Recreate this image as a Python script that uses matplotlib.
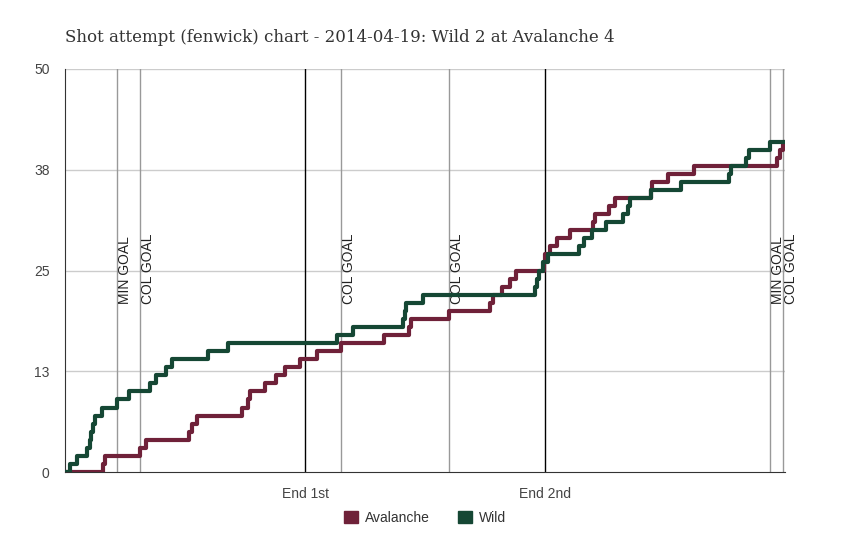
import numpy as np
import matplotlib.pyplot as plt
from matplotlib.patches import Patch

# shot attempt times (game minutes)
avs_times = [3.2, 3.3, 6.25, 6.75, 10.33, 10.6, 10.97, 14.72, 15.28, 15.4,
             16.67, 17.6, 18.33, 19.6, 20.97, 22.97, 26.6, 28.7, 28.85, 32.0,
             35.45, 35.65, 36.4, 37.1, 37.6, 39.9, 40.0, 40.4, 40.97, 42.1,
             44.0, 44.2, 45.3, 45.85, 48.85, 48.95, 50.25, 52.45, 59.35, 59.6,
             59.85]
wild_times = [0.42, 1.03, 1.8, 2.05, 2.2, 2.36, 2.5, 3.05, 4.3, 5.33,
              7.08, 7.58, 8.42, 8.9, 11.94, 13.56, 22.7, 23.97, 28.15, 28.3,
              28.45, 29.8, 39.2, 39.35, 39.5, 39.85, 40.25, 42.8, 43.25, 43.9,
              45.1, 46.5, 46.95, 47.1, 48.8, 51.3, 55.35, 55.5, 56.75, 57.0,
              58.75]

goal_times = [4.33, 6.25, 23.0, 32.0, 58.75, 59.83]
goal_labels = ["MIN GOAL", "COL GOAL", "COL GOAL", "COL GOAL", "MIN GOAL", "COL GOAL"]
period_ends = [20, 40]
period_labels = ["End 1st", "End 2nd"]
y_ticks = [0, 12.5, 25, 37.5, 50]
y_labels = ["0", "13", "25", "38", "50"]
game_end = 60

avs_color = "#6f2139"
wild_color = "#154734"

fig = plt.figure(figsize=(8.5, 5.4), dpi=100)
ax = fig.add_axes([65/850, 68/540, 720/850, 403/540])

def cumulative(times):
    x = np.concatenate([[0], times, [game_end]])
    y = np.concatenate([[0], np.arange(1, len(times)+1), [len(times)]])
    return x, y

for yt in y_ticks[1:]:
    ax.axhline(yt, color="#cccccc", lw=1, zorder=1)

for t in period_ends:
    ax.axvline(t, color="black", lw=1, zorder=2)

for t, lab in zip(goal_times, goal_labels):
    ax.axvline(t, color="#999999", lw=1, zorder=2)
    ax.text(t + 0.1, 20.9, lab, rotation=90, ha="left", va="bottom",
            fontsize=10, color="#222222", family="Liberation Sans", zorder=3, clip_on=False)

x, y = cumulative(avs_times)
ax.plot(x, y, drawstyle="steps-post", color=avs_color, lw=3, zorder=4)
x, y = cumulative(wild_times)
ax.plot(x, y, drawstyle="steps-post", color=wild_color, lw=3, zorder=5)

ax.set_xlim(0, game_end)
ax.set_ylim(0, 50)
ax.set_yticks(y_ticks)
ax.set_yticklabels(y_labels)
ax.set_xticks(period_ends)
ax.set_xticklabels(period_labels)
ax.tick_params(length=0, labelsize=10, labelcolor="#444444")
ax.tick_params(axis="x", pad=11)
ax.tick_params(axis="y", pad=11)
for lab in ax.get_xticklabels() + ax.get_yticklabels():
    lab.set_family("Liberation Sans")

for s in ["top", "right"]:
    ax.spines[s].set_visible(False)
ax.spines["left"].set_color("#333333")
ax.spines["bottom"].set_color("#333333")

fig.text(65/850, 1 - 37/540, "Shot attempt (fenwick) chart - 2014-04-19: Wild 2 at Avalanche 4",
         fontsize=12, color="#333333", family="DejaVu Serif", va="center", ha="left")

handles = [Patch(color=avs_color, label="Avalanche"), Patch(color=wild_color, label="Wild")]
leg = fig.legend(handles=handles, loc="center", bbox_to_anchor=(0.5, 1 - 518/540), ncol=2,
                 frameon=False, handlelength=1.0, handleheight=1.0, columnspacing=2.0,
                 handletextpad=0.5, prop={"family": "Liberation Sans", "size": 10})
for t in leg.get_texts():
    t.set_color("#333333")

fig.savefig("out.png", dpi=100)
